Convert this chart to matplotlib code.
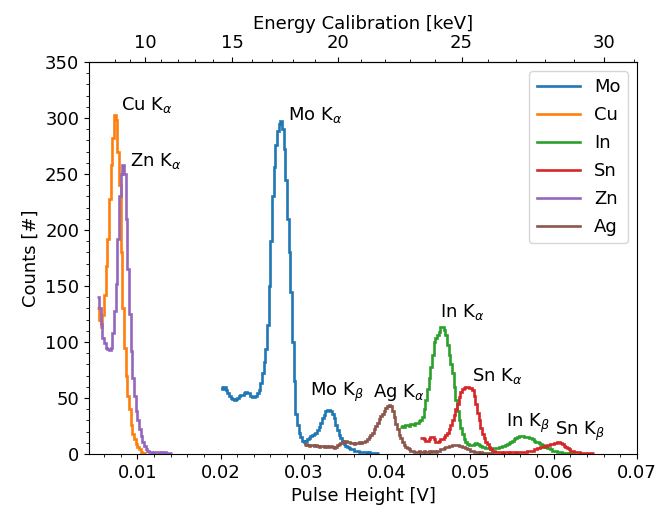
import numpy as np
import matplotlib
matplotlib.use('Agg')
import matplotlib.pyplot as plt
from matplotlib.ticker import AutoMinorLocator, FixedLocator

plt.rcParams['font.size'] = 13

# histogram binning (pulse height, V)
bin_w = 0.0002

mo_start = 0.0200
mo_counts = [60, 58, 60, 57, 54, 52, 50, 49, 48, 49, 50, 52, 53, 53, 54, 55,
             54, 54, 52, 51, 51, 52, 54, 57, 63, 72, 82, 94, 115, 150, 190, 230,
             256, 276, 288, 295, 297, 290, 272, 245, 210, 180, 145, 100, 65, 36, 26, 19,
             15, 12, 11, 12, 13, 14, 16, 17, 18, 19, 21, 24, 28, 32, 35, 38,
             39, 39, 38, 36, 32, 26, 21, 17, 14, 12, 9, 7, 6, 5, 4, 4,
             3, 3, 3, 2, 2, 2, 2, 2, 1, 2, 1, 1, 1, 1, 1]

cu_start = 0.0052
cu_counts = [130, 120, 113, 124, 142, 168, 192, 228, 258, 282, 303, 298, 270, 240, 180, 130,
             95, 70, 52, 40, 26, 18, 13, 9, 6, 4, 2, 1, 1]

in_start = 0.0416
in_counts = [24, 25, 24, 26, 26, 25, 27, 27, 26, 28, 28, 29, 30, 33, 40, 48,
             58, 68, 78, 88, 100, 104, 106, 109, 113, 113, 111, 106, 97, 88, 80, 72,
             60, 48, 38, 30, 23, 18, 13, 11, 9, 8, 8, 8, 9, 10, 9, 8,
             7, 6, 6, 5, 5, 5, 4, 5, 5, 5, 5, 6, 6, 7, 7, 8,
             9, 10, 11, 12, 13, 14, 15, 16, 16, 16, 15, 15, 15, 14, 14, 13,
             12, 11, 11, 10, 9, 8, 7, 6, 5, 5, 4, 3, 3, 3, 2, 2,
             2, 1, 1, 1, 1, 1, 1, 1]

sn_start = 0.0440
sn_counts = [14, 14, 13, 12, 12, 13, 15, 15, 13, 11, 11, 12, 13, 13, 15, 17,
             19, 22, 26, 30, 35, 40, 45, 51, 55, 58, 59, 60, 60, 59, 59, 57,
             52, 45, 37, 30, 23, 18, 14, 11, 9, 6, 4, 3, 3, 2, 2, 2,
             2, 1, 2, 2, 2, 1, 2, 2, 2, 1, 2, 2, 2, 2, 2, 2,
             3, 3, 3, 3, 4, 4, 5, 5, 6, 6, 7, 7, 8, 8, 9, 9,
             10, 10, 11, 11, 10, 9, 7, 6, 5, 4, 3, 3, 2, 2, 2, 2,
             1, 1, 1, 1, 1, 1, 1, 1]

zn_start = 0.0052
zn_counts = [140, 130, 116, 104, 99, 95, 94, 93, 95, 108, 128, 152, 192, 230, 250, 258,
             250, 210, 165, 125, 92, 68, 52, 38, 30, 22, 16, 11, 7, 4, 3, 2,
             2, 1, 2, 2, 2, 1, 2, 1, 2, 1, 1, 1, 1]

ag_start = 0.0300
ag_counts = [8, 9, 8, 7, 8, 8, 7, 8, 7, 6, 7, 7, 6, 7, 6, 7,
             7, 6, 5, 6, 8, 9, 10, 11, 11, 12, 11, 11, 10, 10, 9, 10,
             10, 11, 10, 11, 11, 12, 13, 15, 17, 19, 22, 25, 28, 31, 34, 36,
             38, 41, 43, 44, 43, 38, 33, 27, 22, 17, 14, 11, 8, 6, 5, 4,
             3, 3, 2, 2, 2, 3, 2, 2, 3, 2, 2, 3, 2, 3, 3, 2,
             3, 3, 4, 4, 5, 6, 6, 7, 7, 8, 8, 8, 8, 7, 7, 6,
             6, 5, 4, 4, 3, 3, 2, 2, 2, 1, 2, 1, 1, 1, 1, 1, 1, 1]

series = [('Mo', mo_start, mo_counts), ('Cu', cu_start, cu_counts),
          ('In', in_start, in_counts), ('Sn', sn_start, sn_counts),
          ('Zn', zn_start, zn_counts), ('Ag', ag_start, ag_counts)]

# peak labels
peak_names = ['Cu K$_\\alpha$', 'Zn K$_\\alpha$', 'Mo K$_\\alpha$', 'Mo K$_\\beta$',
              'Ag K$_\\alpha$', 'In K$_\\alpha$', 'Sn K$_\\alpha$', 'In K$_\\beta$',
              'Sn K$_\\beta$']
peak_x = [0.00806, 0.00914, 0.02810, 0.03074, 0.03831, 0.04635, 0.05019, 0.05427, 0.06016]
peak_y = [312, 262, 303, 55, 55, 127, 70, 27, 20]

# energy calibration: PH = A + B*(E-20) + C*(E-20)^2
cal_A = 0.03407
cal_B = 0.002752
cal_C = 4.4e-5
energy_ticks = [10, 15, 20, 25, 30]
energy_minor = list(range(8, 32))


def e_to_ph(e):
    t = np.asarray(e, dtype=float) - 20
    return cal_A + cal_B * t + cal_C * t ** 2


def ph_to_e(ph):
    ph = np.asarray(ph, dtype=float)
    disc = np.maximum(cal_B ** 2 + 4 * cal_C * (ph - cal_A), 0)
    return 20 + (-cal_B + np.sqrt(disc)) / (2 * cal_C)


fig = plt.figure(figsize=(6.6, 5.18), dpi=100)
ax = fig.add_axes([0.1348, 0.1236, 0.8304, 0.7567])

for name, start, counts in series:
    edges = start + bin_w * np.arange(len(counts) + 1)
    ax.stairs(counts, edges, baseline=None, label=name, linewidth=1.9)

for txt, px, py in zip(peak_names, peak_x, peak_y):
    ax.text(px, py, txt, ha='left', va='center')

ax.set_xlim(0.00421, 0.07)
ax.set_ylim(0, 350)
ax.xaxis.set_minor_locator(AutoMinorLocator(5))
ax.yaxis.set_minor_locator(AutoMinorLocator(5))
ax.set_xlabel('Pulse Height [V]')
ax.set_ylabel('Counts [#]')
ax.legend(loc='upper right', handlelength=2.4, labelspacing=0.55)

top = ax.secondary_xaxis('top', functions=(ph_to_e, e_to_ph))
top.xaxis.set_major_locator(FixedLocator(energy_ticks))
top.xaxis.set_minor_locator(FixedLocator(energy_minor))
top.set_xlabel('Energy Calibration [keV]')

fig.savefig('out.png', dpi=100)
